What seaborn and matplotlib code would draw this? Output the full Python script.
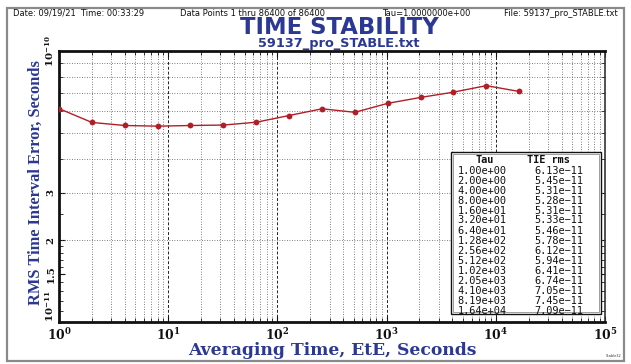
import numpy as np
import pandas as pd
import matplotlib
matplotlib.use("Agg")
import matplotlib.pyplot as plt
from matplotlib.ticker import FixedLocator, LogLocator, NullFormatter, FixedFormatter
from matplotlib.patches import Rectangle
import seaborn as sns

# Averaging times (seconds) and RMS time interval error (seconds)
tau = [1, 2, 4, 8, 16, 32, 64, 128, 256, 512, 1024, 2048, 4096, 8192, 16384]
tie_rms = [6.13e-11, 5.45e-11, 5.31e-11, 5.28e-11, 5.31e-11, 5.33e-11, 5.46e-11,
           5.78e-11, 6.12e-11, 5.94e-11, 6.41e-11, 6.74e-11, 7.05e-11, 7.45e-11,
           7.09e-11]

y_ticks = [1e-11, 1.5e-11, 2e-11, 3e-11, 1e-10]
y_tick_labels = [r"$\mathbf{10^{-11}}$", "1.5", "2", "3", r"$\mathbf{10^{-10}}$"]
x_ticks = [1e0, 1e1, 1e2, 1e3, 1e4, 1e5]
x_tick_labels = [r"$\mathbf{10^{%d}}$" % k for k in range(6)]

header_left = "Date: 09/19/21  Time: 00:33:29"
header_mid = "Data Points 1 thru 86400 of 86400"
header_tau = "Tau=1.0000000e+00"
header_file = "File: 59137_pro_STABLE.txt"
title = "TIME STABILITY"
subtitle = "59137_pro_STABLE.txt"
x_label = "Averaging Time, EtE, Seconds"
y_label = "RMS Time Interval Error, Seconds"

df = pd.DataFrame({"tau": tau, "tie": tie_rms})

sns.set_theme(style="white")
plt.rcParams["mathtext.fontset"] = "dejavuserif"
plt.rcParams["font.family"] = ["DejaVu Sans"]

W, H = 631, 364
fig = plt.figure(figsize=(W / 100, H / 100), dpi=100)
fig.patch.set_facecolor("white")

L, R, T, B = 59, 605, 51, 322
ax = fig.add_axes([L / W, 1 - B / H, (R - L) / W, (B - T) / H])
ax.set_facecolor("white")

blue = "#2b3894"
red = "#b01f28"

sns.lineplot(data=df, x="tau", y="tie", ax=ax, color=red, linewidth=1.0,
             marker="o", markersize=4.2, markeredgewidth=0, zorder=5)

ax.set_xscale("log")
ax.set_yscale("log")
ax.set_xlim(1, 1e5)
ax.set_ylim(1e-11, 1e-10)

# x grid: decades dashed, in-between dotted
ax.xaxis.set_major_locator(FixedLocator(x_ticks))
ax.xaxis.set_major_formatter(FixedFormatter(x_tick_labels))
ax.xaxis.set_minor_locator(LogLocator(base=10, subs=np.arange(2, 10)))
ax.xaxis.set_minor_formatter(NullFormatter())
ax.grid(True, which="major", axis="x", color="#222222", linestyle=(0, (3, 2)), linewidth=0.7)
ax.grid(True, which="minor", axis="x", color="#555555", linestyle=(0, (1, 2)), linewidth=0.6)

# y grid at 2..9 x 1e-11
ax.yaxis.set_major_locator(FixedLocator(y_ticks))
ax.yaxis.set_major_formatter(FixedFormatter(y_tick_labels))
y_minor = [m * 1e-11 for m in [1.1, 1.2, 1.3, 1.4, 1.6, 1.7, 1.8, 1.9, 2.5, 4, 5, 6, 7, 8, 9]]
ax.yaxis.set_minor_locator(FixedLocator(y_minor))
ax.yaxis.set_minor_formatter(NullFormatter())
for m in range(2, 10):
    ax.axhline(m * 1e-11, color="#555555", linestyle=(0, (1, 2)), linewidth=0.6, zorder=1)

ax.tick_params(axis="both", which="both", direction="in", top=True, right=True,
               bottom=True, left=True, color="#111111")
ax.tick_params(axis="both", which="major", length=4, width=0.8)
ax.tick_params(axis="both", which="minor", length=3, width=0.6)
ax.tick_params(axis="x", which="major", pad=4.0)
ax.tick_params(axis="y", which="major", pad=2.5)

for lab in ax.get_xticklabels():
    lab.set_fontfamily("DejaVu Serif")
    lab.set_fontweight("bold")
    lab.set_fontsize(8.8)
    lab.set_color("#111111")
ylabs = ax.get_yticklabels()
for lab in ylabs:
    lab.set_fontfamily("DejaVu Serif")
    lab.set_fontweight("bold")
    lab.set_fontsize(7.3)
    lab.set_rotation(90)
    lab.set_va("center")
    lab.set_color("#111111")
# the bottom decade label sits above the corner
ylabs[0].set_va("bottom")

for side in ["left", "bottom", "top"]:
    ax.spines[side].set_color("#111111")
    ax.spines[side].set_linewidth(2.0)
ax.spines["right"].set_color("#333333")
ax.spines["right"].set_linewidth(1.2)

ax.set_xlabel(x_label, fontfamily="DejaVu Serif", fontweight="bold", fontsize=12.3,
              color=blue)
ax.xaxis.set_label_coords(0.5, -(342 - B) / (B - T))
ax.set_ylabel(y_label, fontfamily="Liberation Serif", fontweight="bold", fontsize=11.8,
              color=blue)
ax.yaxis.set_label_coords(-(L - 44) / (R - L), (B - 183) / (B - T))

# header line and titles
def fx(px):
    return px / W

def fy(py):
    return 1 - py / H

hdr = dict(fontsize=6.0, color="#111111", va="center", fontfamily="DejaVu Sans")
fig.text(fx(13), fy(13.5), header_left, ha="left", **hdr)
fig.text(fx(180), fy(13.5), header_mid, ha="left", **hdr)
fig.text(fx(382), fy(13.5), header_tau, ha="left", **hdr)
fig.text(fx(618), fy(13.5), header_file, ha="right", **hdr)
fig.text(fx(339), fy(27.5), title, ha="center", va="center", fontsize=16.4,
         fontweight="bold", color=blue, fontfamily="DejaVu Sans")
fig.text(fx(339), fy(43), subtitle, ha="center", va="center", fontsize=9.3,
         fontweight="bold", color=blue, fontfamily="DejaVu Sans")
fig.text(fx(622), fy(356), "Stable32", ha="right", va="center", fontsize=2.5,
         color="#333333")

# outer frame
fig.patches.append(Rectangle((fx(7), fy(361)), fx(624) - fx(7), fy(8) - fy(361),
                             transform=fig.transFigure, fill=False,
                             edgecolor="#8a8a8a", linewidth=1.6, zorder=0))

# results table inside the plot
box_l, box_r, box_t, box_b = 451, 601, 152, 314
fig.patches.append(Rectangle((fx(box_l), fy(box_b)), fx(box_r) - fx(box_l),
                             fy(box_t) - fy(box_b), transform=fig.transFigure,
                             facecolor="white", edgecolor="#111111",
                             linewidth=1.0, zorder=10))
fig.patches.append(Rectangle((fx(box_l + 2), fy(box_b - 2)), fx(box_r - 4) - fx(box_l),
                             fy(box_t + 2) - fy(box_b - 2), transform=fig.transFigure,
                             fill=False, edgecolor="#777777",
                             linewidth=0.5, zorder=10))
tab = dict(fontsize=7.4, color="#111111", va="center", fontfamily="DejaVu Sans Mono",
           zorder=11)
fig.text(fx(485), fy(160), "Tau", ha="center", fontweight="bold", **tab)
fig.text(fx(548), fy(160), "TIE rms", ha="center", fontweight="bold", **tab)
for i, (t, v) in enumerate(zip(tau, tie_rms)):
    yy = 170.5 + i * 10.0
    fig.text(fx(457.5), fy(yy), f"{t:.2e}", ha="left", **tab)
    fig.text(fx(534), fy(yy), f"{v:.2e}".replace("-", "\u2212"), ha="left", **tab)

fig.savefig("out.png", dpi=100, facecolor="white")
